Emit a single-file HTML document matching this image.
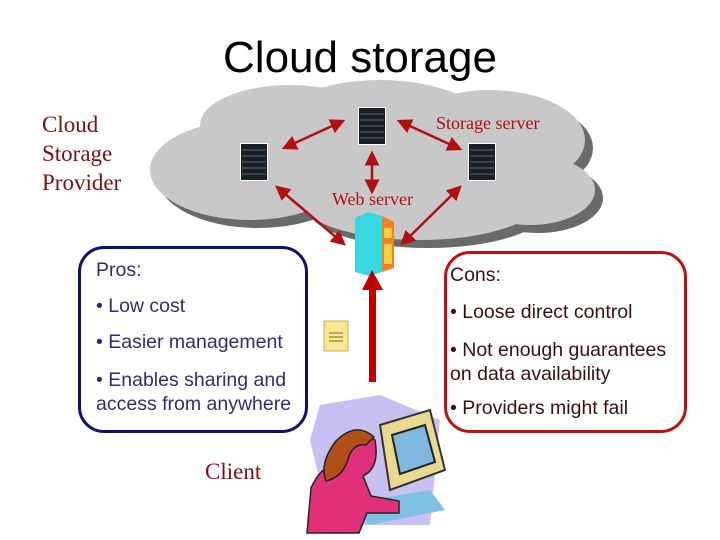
<!DOCTYPE html>
<html><head><meta charset="utf-8"><style>
body{margin:0;width:720px;height:540px;background:#fff;position:relative;overflow:hidden;font-family:"Liberation Sans",sans-serif}
.a{position:absolute;white-space:nowrap}
.box{position:absolute;border-radius:26px;box-sizing:border-box}
.t{font-size:19.5px;color:#2e2e6e}
.c{font-size:19.5px;color:#3a1010}
</style></head><body>
<svg class="a" style="left:0;top:0" width="720" height="540">
<defs>
<marker id="ah" markerWidth="6" markerHeight="6" refX="5" refY="3" orient="auto-start-reverse"><path d="M0,0L6,3L0,6z" fill="#b01010"/></marker>
<g id="srv"><rect width="28" height="38" fill="#fff"/><rect x="1" y="1" width="26" height="36" fill="#1a1f26"/>
<g stroke="#5a6470" stroke-width="1"><line x1="2" y1="7" x2="26" y2="7"/><line x1="2" y1="13" x2="26" y2="13"/><line x1="2" y1="19" x2="26" y2="19"/><line x1="2" y1="25" x2="26" y2="25"/><line x1="2" y1="31" x2="26" y2="31"/></g></g>
</defs>
<g fill="#6a6a6a" transform="translate(8,8)">
<ellipse cx="250" cy="170" rx="100" ry="50"/><ellipse cx="380" cy="140" rx="120" ry="60"/><ellipse cx="290" cy="125" rx="90" ry="40"/><ellipse cx="490" cy="140" rx="95" ry="50"/><ellipse cx="420" cy="200" rx="120" ry="40"/><ellipse cx="200" cy="170" rx="50" ry="28"/><ellipse cx="530" cy="190" rx="65" ry="35"/></g>
<g fill="#c8c8c8">
<ellipse cx="250" cy="170" rx="100" ry="50"/><ellipse cx="380" cy="140" rx="120" ry="60"/><ellipse cx="290" cy="125" rx="90" ry="40"/><ellipse cx="490" cy="140" rx="95" ry="50"/><ellipse cx="420" cy="200" rx="120" ry="40"/><ellipse cx="200" cy="170" rx="50" ry="28"/><ellipse cx="530" cy="190" rx="65" ry="35"/></g>
<use href="#srv" x="240" y="143"/><use href="#srv" x="358" y="107"/><use href="#srv" x="468" y="143"/>
<g stroke="#b01010" stroke-width="2.5" marker-start="url(#ah)" marker-end="url(#ah)">
<line x1="284" y1="148" x2="343" y2="121"/><line x1="399" y1="121" x2="460" y2="149"/><line x1="372" y1="153" x2="372" y2="192"/>
<line x1="277" y1="187" x2="344" y2="244"/><line x1="460" y1="187" x2="402" y2="244"/></g>
<polygon points="355,218 368,212 382,216 382,272 369,276 355,272" fill="#38d8e0"/>
<polygon points="382,216 394,222 394,268 382,272" fill="#f08020"/>
<rect x="384" y="228" width="8" height="10" fill="#f8d040"/><rect x="384" y="244" width="8" height="20" fill="#f8d040"/>
<rect x="369" y="286" width="7" height="96" fill="#c00000"/><polygon points="362,290 372,270 383,290" fill="#c00000"/>
<rect x="324" y="321" width="24" height="30" fill="#f8e890" stroke="#c8b060"/><g stroke="#886020"><line x1="329" y1="333" x2="343" y2="333"/><line x1="329" y1="337" x2="343" y2="337"/><line x1="329" y1="341" x2="343" y2="341"/></g>
<polygon points="320,405 380,395 440,420 430,525 330,525 310,440" fill="#c8c0f0"/>
<polygon points="340,505 430,490 445,510 370,525" fill="#80c0e0"/>
<polygon points="380,425 430,410 445,470 390,490" fill="#e8d890" stroke="#333" stroke-width="2"/>
<polygon points="392,435 425,425 435,462 400,474" fill="#80b8e0" stroke="#222" stroke-width="2"/>
<path d="M335,445 q20,-22 40,-5 q5,28 -12,36 l8,20 l28,5 l0,12 l-32,0 l-8,20 l-52,0 l4,-45 q10,-22 24,-23z" fill="#e0307a" stroke="#222" stroke-width="1.5"/>
<path d="M336,441 q20,-20 38,-4 l-8,8 q-13,-2 -18,14 q-5,18 -22,22 q-7,-18 10,-40z" fill="#b05018" stroke="#222" stroke-width="1.5"/>
</svg>
<div class="a" style="left:0;width:720px;text-align:center;top:33px;font-size:44px;color:#000">Cloud storage</div>
<div class="a" style="left:42px;top:110px;font-family:'Liberation Serif',serif;font-size:23px;line-height:29px;color:#7a1010">Cloud<br>Storage<br>Provider</div>
<div class="a" style="left:436px;top:113px;font-family:'Liberation Serif',serif;font-size:18px;color:#b01010">Storage server</div>
<div class="a" style="left:332px;top:189px;font-family:'Liberation Serif',serif;font-size:18px;color:#b01010">Web server</div>
<div class="box" style="left:78px;top:246px;width:230px;height:187px;border:3px solid #101070"></div>
<div class="a t" style="left:96px;top:259px">Pros:</div>
<div class="a t" style="left:96px;top:295px">• Low cost</div>
<div class="a t" style="left:96px;top:331px">• Easier management</div>
<div class="a t" style="left:96px;top:368px;line-height:24px">• Enables sharing and<br>access from anywhere</div>
<div class="box" style="left:444px;top:251px;width:243px;height:182px;border:3px solid #c01010"></div>
<div class="a c" style="left:450px;top:264px">Cons:</div>
<div class="a c" style="left:450px;top:301px">• Loose direct control</div>
<div class="a c" style="left:450px;top:338px;line-height:24px">• Not enough guarantees<br>on data availability</div>
<div class="a c" style="left:450px;top:397px">• Providers might fail</div>
<div class="a" style="left:205px;top:459px;font-family:'Liberation Serif',serif;font-size:23px;color:#7a1010">Client</div>
</body></html>
